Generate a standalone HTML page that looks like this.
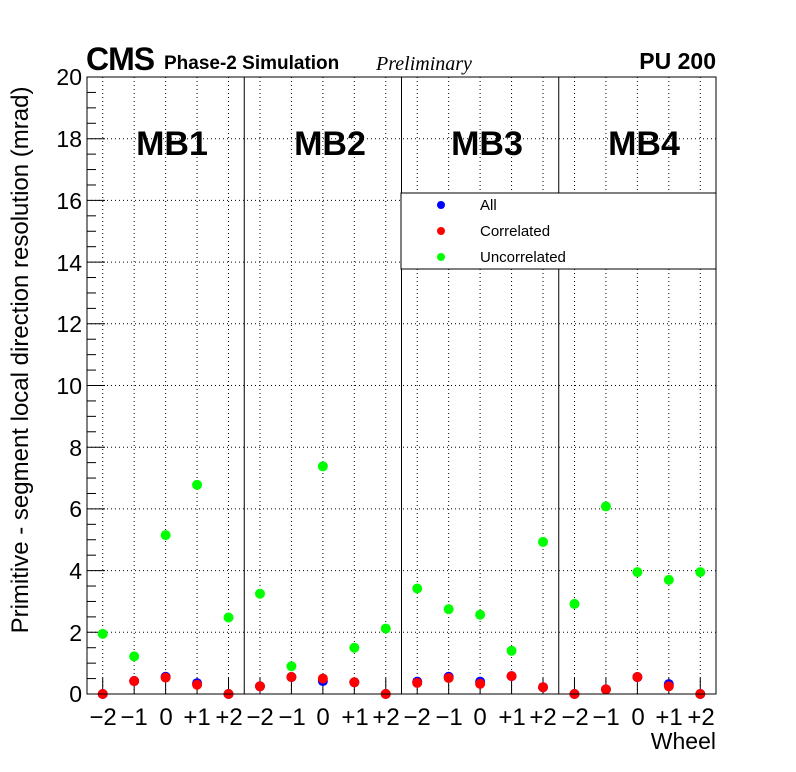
<!DOCTYPE html>
<html><head><style>body{margin:0;background:#fff}svg{display:block}text{font-family:"Liberation Sans",sans-serif}</style></head>
<body>
<svg id="s" width="796" height="772" xmlns="http://www.w3.org/2000/svg">
<g id="g"></g>
<rect x="401" y="193" width="315" height="76" fill="#fff" stroke="#000" stroke-width="1"/>
<circle cx="441" cy="205" r="4" fill="#0000ff"/><text x="480" y="210" font-size="15">All</text>
<circle cx="441" cy="231" r="4" fill="#ff0000"/><text x="480" y="236" font-size="15">Correlated</text>
<circle cx="441" cy="257" r="4" fill="#00ff00"/><text x="480" y="262" font-size="15">Uncorrelated</text>
<rect x="87" y="77" width="629" height="617" fill="none" stroke="#000" stroke-width="1"/>
<g font-size="34" font-weight="bold" text-anchor="middle">
<text x="172" y="155">MB1</text><text x="330" y="155">MB2</text><text x="487" y="155">MB3</text><text x="644" y="155">MB4</text></g>
<text x="86" y="70" font-size="32" font-weight="bold" letter-spacing="-1">CMS</text>
<text x="164" y="69" font-size="19" font-weight="bold">Phase-2 Simulation</text>
<text x="376" y="70" font-size="20" style="font-family:'Liberation Serif',serif;font-style:italic">Preliminary</text>
<text x="716" y="69" font-size="23" font-weight="bold" text-anchor="end">PU 200</text>
<g font-size="23" text-anchor="end">
<text x="82" y="702">0</text><text x="82" y="641">2</text><text x="82" y="579">4</text><text x="82" y="517">6</text><text x="82" y="456">8</text><text x="82" y="394">10</text><text x="82" y="332">12</text><text x="82" y="271">14</text><text x="82" y="209">16</text><text x="82" y="147">18</text><text x="82" y="85">20</text></g>
<text transform="translate(28,360) rotate(-90)" font-size="24" text-anchor="middle">Primitive - segment local direction resolution (mrad)</text>
<text x="716" y="749" font-size="23" text-anchor="end">Wheel</text>
<g font-size="24" text-anchor="middle">
<text x="103" y="725">−2</text><text x="134" y="725">−1</text><text x="166" y="725">0</text><text x="197" y="725">+1</text><text x="229" y="725">+2</text>
<text x="260" y="725">−2</text><text x="292" y="725">−1</text><text x="323" y="725">0</text><text x="355" y="725">+1</text><text x="386" y="725">+2</text>
<text x="417" y="725">−2</text><text x="449" y="725">−1</text><text x="480" y="725">0</text><text x="512" y="725">+1</text><text x="543" y="725">+2</text>
<text x="575" y="725">−2</text><text x="606" y="725">−1</text><text x="638" y="725">0</text><text x="669" y="725">+1</text><text x="701" y="725">+2</text></g>
</svg>
<script>
var g=document.getElementById('g'),h='';
function Y(v){return 694-30.85*v}
function X(i){return 87+15.72+31.45*i}
for(var v=2;v<20;v+=2)h+='<line x1="87" x2="716" y1="'+Y(v)+'" y2="'+Y(v)+'" stroke="#000" stroke-dasharray="1,3"/>';
for(var i=0;i<20;i++){h+='<line x1="'+X(i)+'" x2="'+X(i)+'" y1="77" y2="694" stroke="#000" stroke-dasharray="1,3"/>';
h+='<line x1="'+X(i)+'" x2="'+X(i)+'" y1="678" y2="694" stroke="#000"/>';}
for(var k=1;k<4;k++){var x=87+157.25*k;h+='<line x1="'+x+'" x2="'+x+'" y1="77" y2="694" stroke="#000"/>';}
for(var v=0;v<=20;v+=0.5){var L=(v%2==0)?18:9;h+='<line x1="87" x2="'+(87+L)+'" y1="'+Y(v)+'" y2="'+Y(v)+'" stroke="#000"/>';}
var gr=[1.95,1.22,5.15,6.78,2.48,3.25,0.9,7.38,1.5,2.12,3.42,2.75,2.57,1.4,4.93,2.92,6.08,3.95,3.7,3.95];
var bl=[0,0.42,0.56,0.35,0,0.25,0.55,0.42,0.38,0,0.4,0.56,0.4,0.58,0.22,0,0.15,0.55,0.32,0];
var rd=[0,0.42,0.53,0.30,0,0.25,0.55,0.5,0.38,0,0.36,0.52,0.33,0.58,0.22,0,0.15,0.55,0.25,0];
for(var i=0;i<20;i++){h+='<circle cx="'+X(i)+'" cy="'+Y(gr[i])+'" r="5" fill="#00ff00"/>';
h+='<circle cx="'+X(i)+'" cy="'+Y(bl[i])+'" r="5" fill="#0000ff"/>';
h+='<circle cx="'+X(i)+'" cy="'+Y(rd[i])+'" r="5" fill="#ff0000"/>';}
g.innerHTML=h;
</script>
</body></html>
